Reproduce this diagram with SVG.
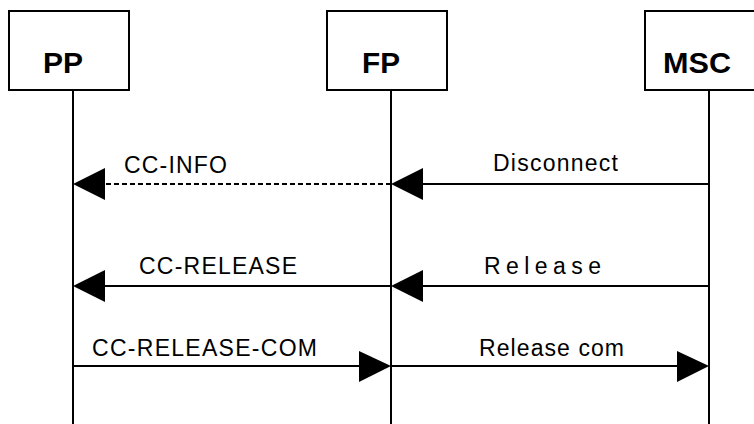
<svg xmlns="http://www.w3.org/2000/svg" width="754" height="424" viewBox="0 0 754 424">
<style>
.box{fill:#fff;stroke:#000;stroke-width:2}
.life{stroke:#000;stroke-width:2;fill:none}
.msg{stroke:#000;stroke-width:2;fill:none}
.dash{stroke-dasharray:5 3}
.head{fill:#000}
.title{font-family:"Liberation Sans",Arial,sans-serif;font-weight:bold;font-size:30px;fill:#000}
.lbl{font-family:"Liberation Sans",Arial,sans-serif;font-size:23px;fill:#000}
</style>
<rect width="754" height="424" fill="#fff"/>
<g id="PP">
<rect class="box" x="9" y="11" width="120" height="79"/>
<line class="life" x1="73" y1="90" x2="73" y2="424"/>
<text class="title" x="43" y="72.5" textLength="40" lengthAdjust="spacingAndGlyphs">PP</text>
</g>
<g id="FP">
<rect class="box" x="327" y="11" width="120" height="79"/>
<line class="life" x1="391" y1="90" x2="391" y2="424"/>
<text class="title" x="362" y="72.5" textLength="38" lengthAdjust="spacingAndGlyphs">FP</text>
</g>
<g id="MSC">
<rect class="box" x="645" y="11" width="120" height="79"/>
<line class="life" x1="709" y1="90" x2="709" y2="424"/>
<text class="title" x="663" y="72.5" textLength="68" lengthAdjust="spacingAndGlyphs">MSC</text>
</g>
<g id="connectors">
<line class="msg dash" x1="391" y1="184" x2="104" y2="184"/>
<polygon class="head" points="73,184 105,168 105,200"/>
<text class="lbl" x="124" y="173" textLength="103" lengthAdjust="spacing">CC-INFO</text>
<line class="msg" x1="709" y1="184" x2="422" y2="184"/>
<polygon class="head" points="391,184 423,168 423,200"/>
<text class="lbl" x="493" y="171" textLength="125" lengthAdjust="spacing">Disconnect</text>
<line class="msg" x1="391" y1="286" x2="104" y2="286"/>
<polygon class="head" points="73,286 105,270 105,302"/>
<text class="lbl" x="139" y="273.5" textLength="158" lengthAdjust="spacing">CC-RELEASE</text>
<line class="msg" x1="709" y1="286" x2="422" y2="286"/>
<polygon class="head" points="391,286 423,270 423,302"/>
<text class="lbl" x="484" y="273.5" textLength="117" lengthAdjust="spacing">Release</text>
<line class="msg" x1="73" y1="366" x2="360" y2="366"/>
<polygon class="head" points="391,366 359,351 359,382"/>
<text class="lbl" x="92" y="356" textLength="225" lengthAdjust="spacing">CC-RELEASE-COM</text>
<line class="msg" x1="391" y1="366" x2="678" y2="366"/>
<polygon class="head" points="709,366 677,351 677,382"/>
<text class="lbl" x="479" y="356" textLength="145" lengthAdjust="spacing">Release com</text>
</g>
</svg>
